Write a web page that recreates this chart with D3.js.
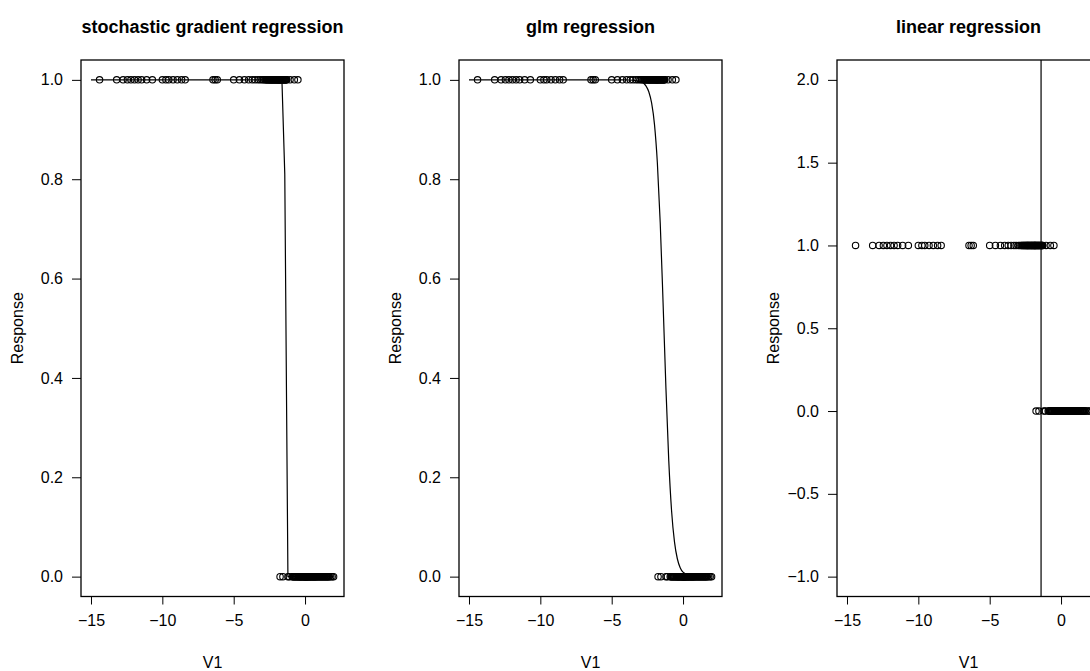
<!DOCTYPE html>
<html>
<head>
<meta charset="utf-8">
<script src="https://cdn.jsdelivr.net/npm/d3@7"></script>
<style>
  body { margin: 0; background: #fff; }
  text { font-family: "Liberation Sans", Arial, sans-serif; fill: #000; }
</style>
</head>
<body>
<script>
// observed V1 values, split by response
const v1Response1 = [
  -14.4, -13.2, -12.75, -12.45, -12.2, -11.95, -11.7, -11.45, -11.1, -10.7,
  -10.0, -9.75, -9.55, -9.25, -8.95, -8.65, -8.4, -6.45, -6.3, -6.15,
  -5.0, -4.6, -4.25, -3.95, -3.7, -3.5, -3.3, -3.15, -3.0, -2.9, -2.8,
  -2.74, -2.7, -2.63, -2.6, -2.55, -2.5, -2.46, -2.42, -2.38, -2.35, -2.31,
  -2.28, -2.24, -2.2, -2.16, -2.12, -2.08, -2.05, -2.02, -1.98, -1.94,
  -1.9, -1.87, -1.85, -1.82, -1.8, -1.76, -1.72, -1.69, -1.65, -1.61,
  -1.58, -1.54, -1.5, -1.46, -1.42, -1.38, -1.35, -1.31, -1.28,
  -1.05, -0.75, -0.5
];
const v1Response0 = [
  -1.75, -1.55, -1.2, -1.1, -0.9, -0.85, -0.8, -0.74, -0.7, -0.65, -0.6,
  -0.55, -0.5, -0.46, -0.42, -0.38, -0.35, -0.31, -0.28, -0.24, -0.2,
  -0.16, -0.12, -0.08, -0.05, -0.02, 0.0, 0.03, 0.05, 0.08, 0.1, 0.13,
  0.15, 0.18, 0.2, 0.24, 0.28, 0.31, 0.35, 0.38, 0.42, 0.46, 0.5, 0.54,
  0.58, 0.62, 0.65, 0.69, 0.72, 0.76, 0.8, 0.85, 0.9, 0.95, 1.0, 1.05,
  1.1, 1.15, 1.2, 1.25, 1.3, 1.35, 1.4, 1.45, 1.5, 1.55, 1.6, 1.65,
  1.7, 1.8, 1.9, 2.0
];

// fitted curves
const sgdX = [-15, -1.62, -1.42, -1.2, 2.0];
const sgdY = [1, 1, 0.81, 0, 0];
const glmX = [-15, -4, -3, -2.6, -2.4, -2.2, -2.0, -1.8, -1.6, -1.4, -1.2, -1.0, -0.8, -0.6, -0.4, -0.2, 0, 0.5, 2.0];
const glmY = [1, 1, 0.997, 0.988, 0.976, 0.953, 0.91, 0.833, 0.713, 0.552, 0.38, 0.233, 0.131, 0.07, 0.036, 0.018, 0.009, 0.002, 0];
const lmVertical = -1.4;

const titles = ["stochastic gradient regression", "glm regression", "linear regression"];
const xTicks = [-15, -10, -5, 0];
const yTicksProb = [0, 0.2, 0.4, 0.6, 0.8, 1.0];
const yTicksLin = [-1.0, -0.5, 0, 0.5, 1.0, 1.5, 2.0];

const W = 1090, H = 671;
const left0 = 81, pitch = 378, pw = 263;
const boxTop = 60, boxBottom = 596.5;

const svg = d3.select('body').append('svg')
  .attr('width', W).attr('height', H);

const fmtTick = d => d3.format('.1f')(d).replace('-', '\u2212');
const fmtX = d => String(d).replace('-', '\u2212');

function drawPanel(i, yDomain, yTicks, curve) {
  const x0 = left0 + pitch * i;
  const x = d3.scaleLinear().domain([-15.70, 2.73]).range([x0, x0 + pw]);
  const y = d3.scaleLinear().domain(yDomain).range([boxBottom, boxTop]);
  const g = svg.append('g');

  // x axis
  const xa = g.append('g').attr('transform', `translate(0,${boxBottom})`)
    .call(d3.axisBottom(x).tickValues(xTicks).tickSize(8).tickPadding(10).tickFormat(fmtX));
  xa.select('.domain').remove();
  xa.selectAll('line').attr('stroke', '#000');
  xa.selectAll('text').attr('font-size', 16);

  // y axis
  const ya = g.append('g').attr('transform', `translate(${x0},0)`)
    .call(d3.axisLeft(y).tickValues(yTicks).tickSize(9).tickPadding(9).tickFormat(fmtTick));
  ya.select('.domain').remove();
  ya.selectAll('line').attr('stroke', '#000');
  ya.selectAll('text').attr('font-size', 16);

  // box
  g.append('rect')
    .attr('x', x0).attr('y', boxTop)
    .attr('width', pw).attr('height', boxBottom - boxTop)
    .attr('fill', 'none').attr('stroke', '#000').attr('stroke-width', 1.3);

  // title and labels
  g.append('text').attr('x', x0 + pw / 2).attr('y', 33)
    .attr('text-anchor', 'middle').attr('font-weight', 'bold').attr('font-size', 18)
    .text(titles[i]);
  g.append('text').attr('x', x0 + pw / 2).attr('y', 668)
    .attr('text-anchor', 'middle').attr('font-size', 16).text('V1');
  g.append('text')
    .attr('transform', `translate(${x0 - 58},${(boxTop + boxBottom) / 2}) rotate(-90)`)
    .attr('text-anchor', 'middle').attr('font-size', 16).text('Response');

  // points
  const pts = v1Response1.map(v => [v, 1]).concat(v1Response0.map(v => [v, 0]));
  g.selectAll('circle').data(pts).enter().append('circle')
    .attr('cx', d => x(d[0])).attr('cy', d => y(d[1])).attr('r', 3.2)
    .attr('fill', 'none').attr('stroke', '#000').attr('stroke-width', 1.1);

  if (curve) {
    const line = d3.line().x(d => x(d[0])).y(d => y(d[1])).curve(curve.shape);
    g.append('path').datum(d3.zip(curve.xs, curve.ys))
      .attr('d', line).attr('fill', 'none').attr('stroke', '#000').attr('stroke-width', 1.2);
  } else {
    g.append('line')
      .attr('x1', x(lmVertical)).attr('x2', x(lmVertical))
      .attr('y1', boxTop).attr('y2', boxBottom)
      .attr('stroke', '#000').attr('stroke-width', 1.2);
  }
}

drawPanel(0, [-0.04, 1.04], yTicksProb, { xs: sgdX, ys: sgdY, shape: d3.curveLinear });
drawPanel(1, [-0.04, 1.04], yTicksProb, { xs: glmX, ys: glmY, shape: d3.curveMonotoneX });
drawPanel(2, [-1.12, 2.12], yTicksLin, null);
</script>
</body>
</html>
